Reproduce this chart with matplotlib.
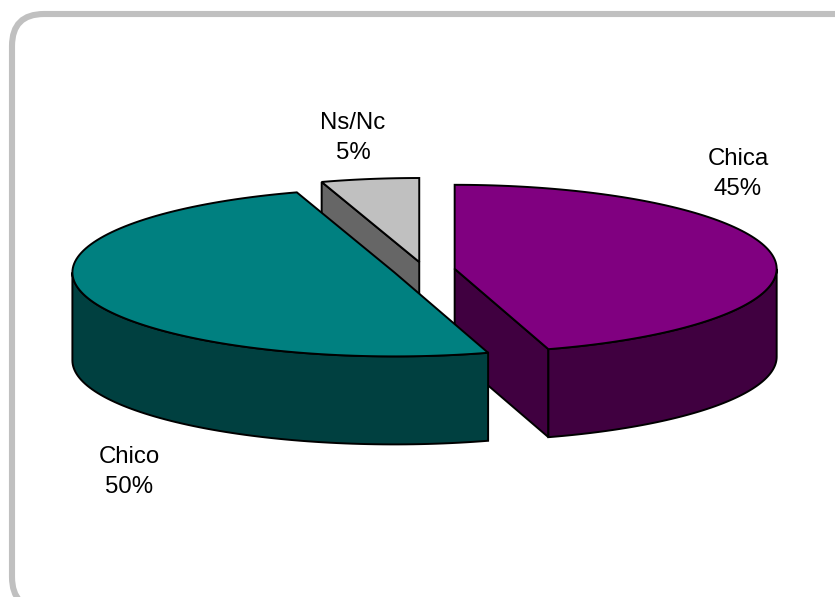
import numpy as np
import matplotlib
matplotlib.use("Agg")
import matplotlib.pyplot as plt
from matplotlib.patches import Polygon, FancyBboxPatch

labels = ["Chica", "Chico", "Ns/Nc"]
values = [45.3, 49.8, 4.9]
top_colors = ["#800080", "#008080", "#C0C0C0"]
side_colors = ["#400040", "#004040", "#666666"]
label_pos = [(738, 174), (129, 472), (353, 138)]

# geometria de la tarta en pixeles
cx, cy = 424, 270
rx, ry = 322, 84
depth = 88
explode = 31


def rim(c, ang):
    # angulo en grados, sentido horario desde las 12
    a = np.radians(ang)
    return np.column_stack([c[0] + rx * np.sin(a), c[1] - ry * np.cos(a)])


fig = plt.figure(figsize=(8.35, 5.97), dpi=100)
ax = fig.add_axes([0, 0, 1, 1])
ax.set_xlim(0, 835)
ax.set_ylim(597, 0)
ax.axis("off")

# marco redondeado, se sale por la derecha y por abajo
ax.add_patch(FancyBboxPatch((12, 14), 900, 595, boxstyle="round,pad=0,rounding_size=32",
                            fc="white", ec="#C0C0C0", lw=4.4, zorder=0))

# angulos de cada sector
ends = np.cumsum(values) / sum(values) * 360
starts = ends - np.array(values) / sum(values) * 360
slices = []
for lab, s, e, top, side in zip(labels, starts, ends, top_colors, side_colors):
    mid = np.radians((s + e) / 2)
    c = (cx + explode * np.sin(mid), cy - explode * ry / rx * np.cos(mid))
    slices.append((lab, s, e, top, side, c))

# de atras hacia delante: Ns/Nc, Chica, Chico
z = 2
for lab, s, e, top, side, c in [slices[2], slices[0], slices[1]]:
    kw = dict(ec="black", lw=1.4, joinstyle="miter", zorder=z)
    down = np.array([0, depth])

    # caras del corte, solo las que miran hacia el frente
    if np.sin(np.radians(s)) < -1e-9:
        p = rim(c, [s])[0]
        ax.add_patch(Polygon([c, p, p + down, np.array(c) + down], fc=side, **kw))
    if np.sin(np.radians(e)) > 1e-9:
        p = rim(c, [e])[0]
        ax.add_patch(Polygon([c, p, p + down, np.array(c) + down], fc=side, **kw))

    # pared exterior, solo la parte que mira al frente
    lo, hi = max(s, 90), min(e, 270)
    if hi > lo:
        arc = rim(c, np.linspace(lo, hi, 80))
        ax.add_patch(Polygon(np.vstack([arc, (arc + down)[::-1]]), fc=side, **kw))

    # cara de arriba
    arc = rim(c, np.linspace(s, e, 120))
    ax.add_patch(Polygon(np.vstack([[c], arc]), fc=top, **kw))
    z += 1

for lab, v, (x, y) in zip(labels, values, label_pos):
    ax.text(x, y, f"{lab}\n{v:.0f}%", ha="center", va="center", fontsize=17.3,
            family="Liberation Sans", color="black", linespacing=1.5, zorder=10)

fig.savefig("out.png", dpi=100)
